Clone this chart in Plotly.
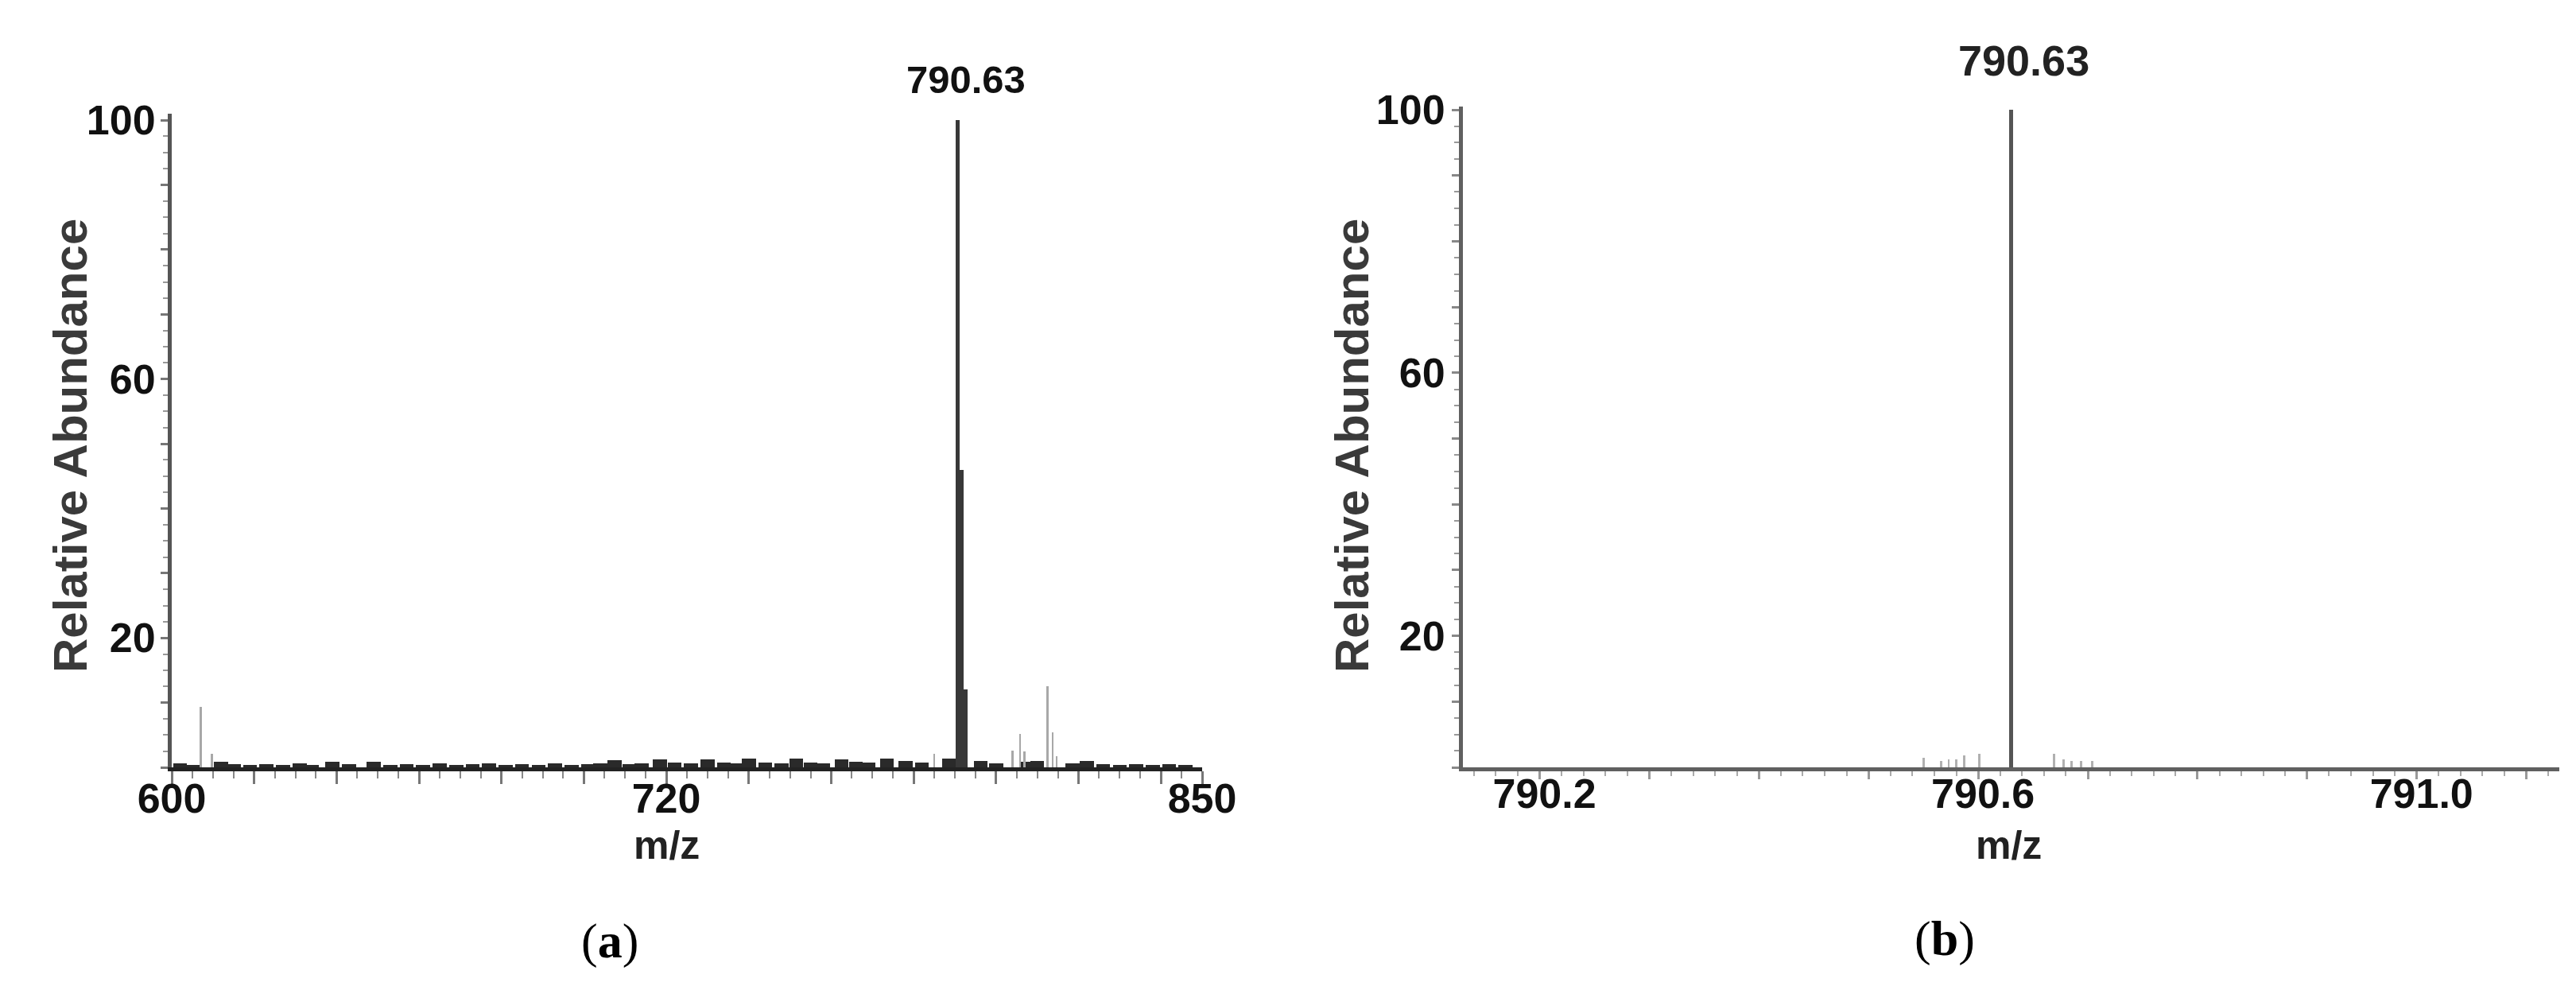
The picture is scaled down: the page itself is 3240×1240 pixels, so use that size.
import plotly.graph_objects as go

W, H = 3240, 1240

# ---------------- data: panel (a) ----------------
main_mz = [790.63, 791.63, 792.63]
main_ab = [100, 46, 12]

gray_mz = [607.0, 609.7, 785.0, 804.0, 805.8, 806.9, 812.5, 813.7, 814.7]
gray_ab = [9.3, 2.1, 2.1, 2.6, 5.2, 2.5, 12.5, 5.4, 1.7]

noise_mz = [602, 605, 612, 615, 619, 623, 627, 631, 634, 639, 643, 649, 653, 657,
            661, 665, 669, 673, 677, 681, 685, 689, 693, 697, 701, 704, 707.5, 711,
            714, 718.5, 722, 726, 730, 734, 737, 740, 744, 748, 751.5, 755, 758,
            762.5, 766, 769, 773.5, 778, 782, 788.6, 796.3, 800, 807.3, 810, 818.5,
            822, 826, 830, 834, 838, 842, 846]
noise_ab = [0.6, 0.4, 0.8, 0.5, 0.4, 0.5, 0.4, 0.6, 0.4, 0.9, 0.5, 0.8, 0.4, 0.5,
            0.4, 0.6, 0.4, 0.5, 0.6, 0.4, 0.5, 0.4, 0.6, 0.4, 0.5, 0.6, 1.1, 0.5,
            0.6, 1.2, 0.7, 0.6, 1.2, 0.7, 0.6, 1.3, 0.7, 0.6, 1.3, 0.7, 0.6,
            1.2, 0.8, 0.7, 1.3, 1.0, 0.7, 1.3, 1.0, 0.6, 0.8, 1.0, 0.6,
            1.0, 0.5, 0.4, 0.5, 0.4, 0.5, 0.4]

# ---------------- data: panel (b) ----------------
b_main_mz = [790.63]
b_main_ab = [100]
b_small_mz = [790.55, 790.566, 790.573, 790.580, 790.587, 790.601,
              790.669, 790.678, 790.685, 790.694, 790.704]
b_small_ab = [1.5, 1.0, 1.2, 1.2, 1.8, 2.0, 2.0, 1.2, 1.0, 1.0, 1.0]

peak_label = "790.63"

# tick labels
a_xtickvals = [600, 620, 640, 660, 680, 700, 720, 740, 760, 780, 800, 820, 840, 850]
a_xticktext = ["600", "", "", "", "", "", "720", "", "", "", "", "", "", "850"]
b_xtickvals = [790.2, 790.3, 790.4, 790.5, 790.6, 790.7, 790.8, 790.9, 791.0, 791.1]
b_xticktext = ["790.2", "", "", "", "790.6", "", "", "", "791.0", ""]
ytickvals = [0, 10, 20, 30, 40, 50, 60, 70, 80, 90, 100]
yticktext = ["", "", "20", "", "", "", "60", "", "", "", "100"]

# ---------------- layout geometry (pixels) ----------------
def px_x(p):
    return p / W

def px_y(p):
    return 1 - p / H

SANS = "Liberation Sans, Arial, sans-serif"
SERIF = "Liberation Serif, Times New Roman, serif"

fig = go.Figure()

# panel (a)
fig.add_trace(go.Bar(x=noise_mz, y=noise_ab, width=[3.4] * len(noise_mz),
                     marker=dict(color="#2a2a2a", line=dict(width=0)),
                     xaxis="x", yaxis="y", showlegend=False))
fig.add_trace(go.Bar(x=gray_mz, y=gray_ab, width=[0.5] * len(gray_mz),
                     marker=dict(color="#a8a8a8", line=dict(width=0)),
                     xaxis="x", yaxis="y", showlegend=False))
fig.add_trace(go.Bar(x=main_mz, y=main_ab, width=[1.0] * len(main_mz),
                     marker=dict(color="#383838", line=dict(width=0)),
                     xaxis="x", yaxis="y", showlegend=False))

# panel (b)
fig.add_trace(go.Bar(x=b_small_mz, y=b_small_ab, width=[0.002] * len(b_small_mz),
                     marker=dict(color="#b0b0b0", line=dict(width=0)),
                     xaxis="x2", yaxis="y2", showlegend=False))
fig.add_trace(go.Bar(x=b_main_mz, y=b_main_ab, width=[0.003],
                     marker=dict(color="#555555", line=dict(width=0)),
                     xaxis="x2", yaxis="y2", showlegend=False))

tickfont = dict(family=SANS, size=52, color="#111111", weight="bold")

common_axis = dict(showgrid=False, zeroline=False, showline=True, ticks="outside",
                   tickfont=tickfont, fixedrange=True, automargin=False)

fig.update_layout(
    width=W, height=H,
    margin=dict(l=0, r=0, t=0, b=0),
    paper_bgcolor="white", plot_bgcolor="white",
    barmode="overlay", bargap=0,
    xaxis=dict(common_axis, domain=[px_x(208), px_x(1504)], range=[600, 850],
               anchor="y", tickmode="array", tickvals=a_xtickvals, ticktext=a_xticktext,
               ticklabelstandoff=-26,
               linecolor="#222222", linewidth=5, ticklen=16, tickwidth=3, tickcolor="#777777",
               minor=dict(tickmode="linear", tick0=600, dtick=5, ticklen=9, tickwidth=2,
                          tickcolor="#888888", ticks="outside")),
    yaxis=dict(common_axis, domain=[px_y(957), px_y(135)], range=[0, 101],
               anchor="x", tickmode="array", tickvals=ytickvals, ticktext=yticktext,
               ticklabelstandoff=-4,
               linecolor="#555555", linewidth=5, ticklen=9, tickwidth=3, tickcolor="#777777",
               minor=dict(tickmode="linear", tick0=0, dtick=2.5, ticklen=6, tickwidth=2,
                          tickcolor="#999999", ticks="outside")),
    xaxis2=dict(common_axis, domain=[px_x(1832), px_x(3211)], range=[790.13, 791.13],
                anchor="y2", tickmode="array", tickvals=b_xtickvals, ticktext=b_xticktext,
                ticklabelshift=6, ticklabelstandoff=-26,
                linecolor="#606060", linewidth=5, ticklen=10, tickwidth=3, tickcolor="#999999",
                minor=dict(tickmode="linear", tick0=790.0, dtick=0.02, ticklen=6, tickwidth=2,
                           tickcolor="#aaaaaa", ticks="outside")),
    yaxis2=dict(common_axis, domain=[px_y(957), px_y(126)], range=[0, 100.5],
                anchor="x2", tickmode="array", tickvals=ytickvals, ticktext=yticktext,
                ticklabelstandoff=-2,
                linecolor="#606060", linewidth=5, ticklen=9, tickwidth=3, tickcolor="#888888",
                minor=dict(tickmode="linear", tick0=0, dtick=2.5, ticklen=6, tickwidth=2,
                           tickcolor="#999999", ticks="outside")),
)

def ann(text, x, y, size, family=SANS, color="#111111", angle=0, weight="bold"):
    fig.add_annotation(text=text, x=px_x(x), y=px_y(y), xref="paper", yref="paper",
                       showarrow=False, textangle=angle, xanchor="center", yanchor="middle",
                       font=dict(family=family, size=size, color=color, weight=weight))

# axis titles
ann("Relative Abundance", 80, 553, 60, color="#3a3a3a", angle=-90)
ann("Relative Abundance", 1692, 553, 60, color="#3a3a3a", angle=-90)
ann("m/z", 830, 1055, 50, color="#222222")
ann("m/z", 2518, 1055, 50, color="#222222")

# peak labels
ann(peak_label, 1207, 92, 49, color="#111111")
ann(peak_label, 2537, 68, 54, color="#222222")

# panel labels
ann("(<b>a</b>)", 759, 1175, 62, family=SERIF, color="#000000", weight="normal")
ann("(<b>b</b>)", 2438, 1172, 62, family=SERIF, color="#000000", weight="normal")

fig.write_html("out.html")
